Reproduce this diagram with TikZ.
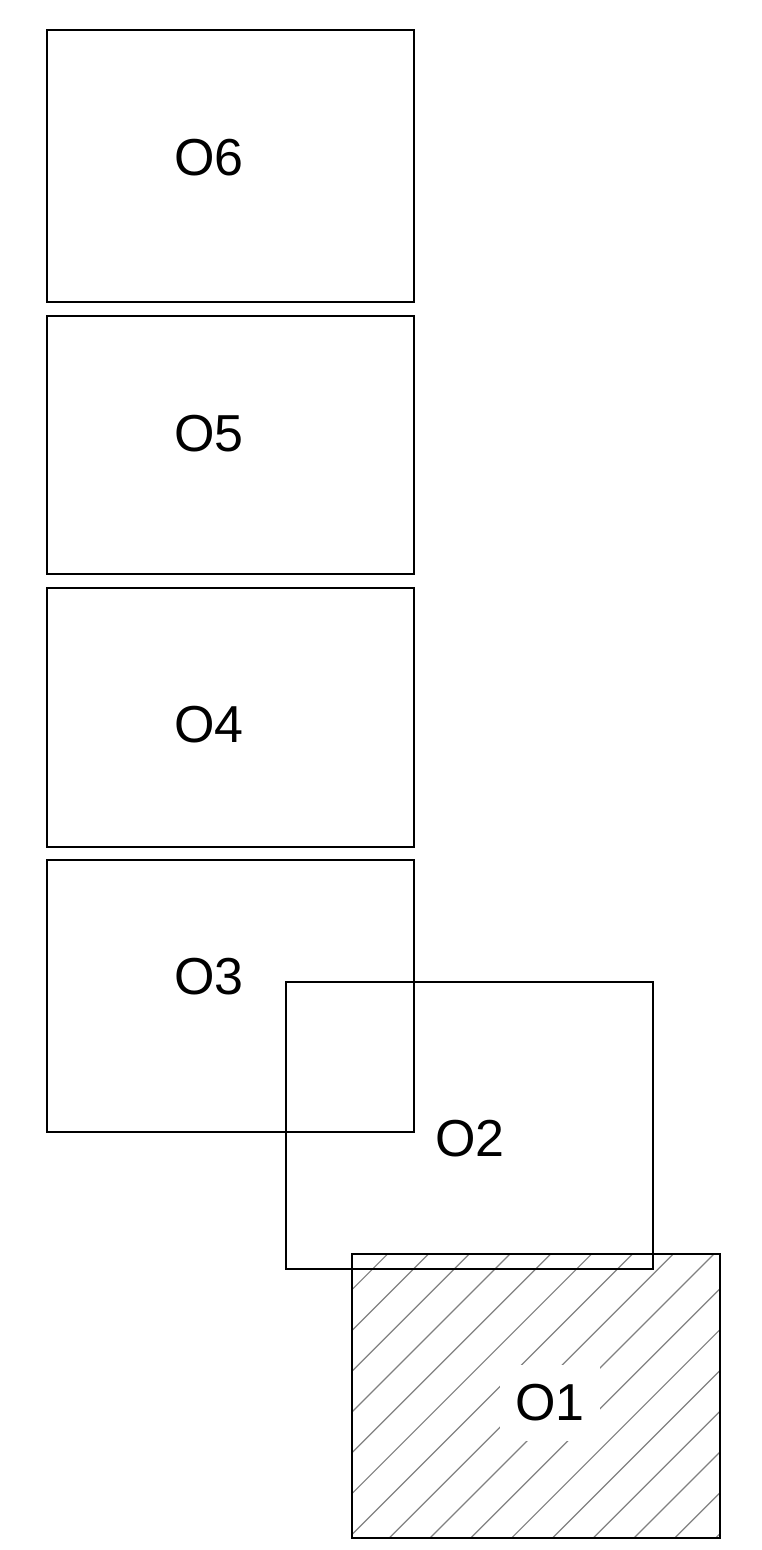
\documentclass[tikz,border=0pt]{standalone}
\usepackage{fontspec}
\setmainfont{Liberation Sans}
\begin{document}
\begin{tikzpicture}[x=1pt,y=-1pt,
  box/.style={draw=black, line width=1.8pt, rectangle, inner sep=0pt, anchor=north west},
  lbl/.style={font=\fontsize{52}{62}\selectfont, inner sep=0pt},
  lblw/.style={font=\fontsize{52}{62}\selectfont, fill=white, inner xsep=15pt, inner ysep=20pt},
  hatch/.style={draw=black!50, line width=1.2pt}]
\useasboundingbox (0,0) rectangle (761,1550);
% O1 hatching
\begin{scope}
\clip (351,1253) rectangle (719,1537);
\foreach \k in {-2,...,18} {
  \draw[hatch] ({1641.6+40.8*\k-1560},1560) -- ({1641.6+40.8*\k-1230},1230);
}
\end{scope}
\node[box, minimum width=368pt, minimum height=284pt] (b1) at (351,1253) {};
\node[lblw] (l1) at (550,1403) {O1};
\node[box, minimum width=367pt, minimum height=287pt] (b2) at (285,981) {};
\node[box, minimum width=367pt, minimum height=272pt] (b3) at (46,859) {};
\node[box, minimum width=367pt, minimum height=259pt] (b4) at (46,587) {};
\node[box, minimum width=367pt, minimum height=258pt] (b5) at (46,315) {};
\node[box, minimum width=367pt, minimum height=272pt] (b6) at (46,29) {};
\node[lbl] (l2) at (470,1138.5) {O2};
\node[lbl] (l3) at (209,977) {O3};
\node[lbl] (l4) at (209,724.5) {O4};
\node[lbl] (l5) at (209,434) {O5};
\node[lbl] (l6) at (209,157.5) {O6};
\end{tikzpicture}
\end{document}
